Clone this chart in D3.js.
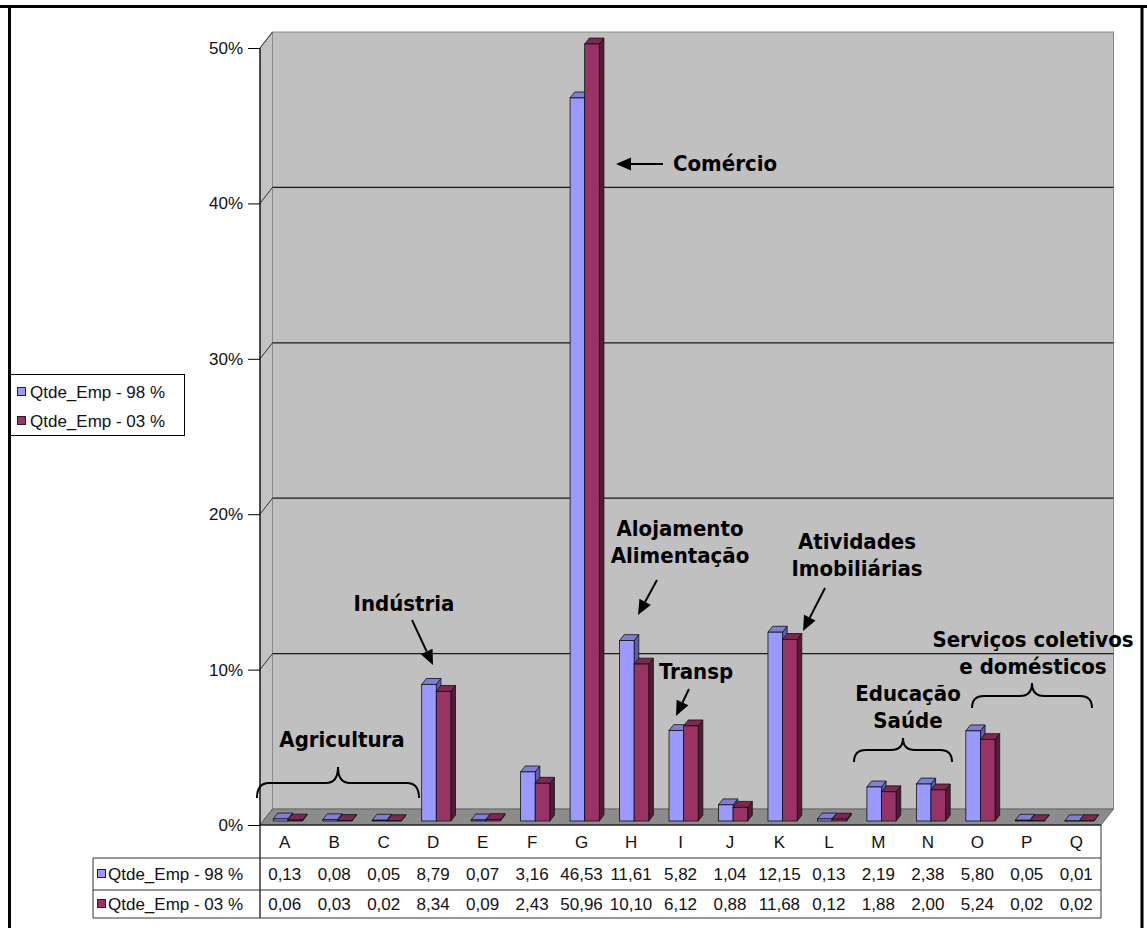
<!DOCTYPE html>
<html>
<head>
<meta charset="utf-8">
<script src="https://cdn.jsdelivr.net/npm/d3@7"></script>
<style>
  html, body { margin: 0; padding: 0; background: #fff; }
  svg { display: block; }
  .small { font-family: "Liberation Sans", Arial, sans-serif; font-size: 17px; fill: #111; }
  .note { font-family: "DejaVu Sans Condensed", "DejaVu Sans", sans-serif; font-stretch: condensed; font-weight: bold; font-size: 22px; fill: #000; }
</style>
</head>
<body>
<svg id="chart" width="1147" height="928"></svg>
<script>
// Share of companies by economic activity section (CNAE), 1998 vs 2003
const categories = ["A","B","C","D","E","F","G","H","I","J","K","L","M","N","O","P","Q"];
const seriesNames = ["Qtde_Emp - 98 %", "Qtde_Emp - 03 %"];
const values98 = [0.13, 0.08, 0.05, 8.79, 0.07, 3.16, 46.53, 11.61, 5.82, 1.04, 12.15, 0.13, 2.19, 2.38, 5.80, 0.05, 0.01];
const values03 = [0.06, 0.03, 0.02, 8.34, 0.09, 2.43, 50.96, 10.10, 6.12, 0.88, 11.68, 0.12, 1.88, 2.00, 5.24, 0.02, 0.02];
const yTicks = [0, 10, 20, 30, 40, 50];

const seriesValues = [values98, values03];
const fmt = v => v.toFixed(2).replace(".", ",");

const svg = d3.select("#chart");

// 3D frame geometry
const xLeft = 260, xRight = 1101, yBase = 825, yTop = 48;
const DX = 12.5, DY = -16;          // offset from front edge to back wall
const t0 = 0.25, t1 = 0.62;         // depth slice occupied by the columns

const x = d3.scaleBand().domain(categories).range([xLeft, xRight]).padding(0);
const y = d3.scaleLinear().domain([0, 50]).range([yBase, yTop]).clamp(true);

// side wall
svg.append("polygon")
  .attr("points", [[xLeft, y(50)], [xLeft + DX, y(50) + DY], [xLeft + DX, yBase + DY], [xLeft, yBase]].join(" "))
  .attr("fill", "#c3c3c3").attr("stroke", "#808080").attr("stroke-width", 1);
// back wall
svg.append("rect")
  .attr("x", xLeft + DX).attr("y", y(50) + DY)
  .attr("width", xRight - xLeft).attr("height", yBase - y(50))
  .attr("fill", "#c0c0c0").attr("stroke", "#8a8a8a").attr("stroke-width", 1);

// gridlines: diagonal across the side wall, horizontal across the back wall
yTicks.filter(v => v > 0 && v < 50).forEach(v => {
  svg.append("line")
    .attr("x1", xLeft + DX).attr("x2", xRight + DX)
    .attr("y1", y(v) + DY).attr("y2", y(v) + DY)
    .attr("stroke", "#1a1a1a").attr("stroke-width", 1.2);
});
yTicks.forEach(v => {
  svg.append("line")
    .attr("x1", xLeft).attr("y1", y(v))
    .attr("x2", xLeft + DX).attr("y2", y(v) + DY)
    .attr("stroke", v === 0 ? "#555" : "#333").attr("stroke-width", 1);
});

// floor
svg.append("polygon")
  .attr("points", [[xLeft, yBase], [xRight, yBase], [xRight + DX, yBase + DY], [xLeft + DX, yBase + DY]].join(" "))
  .attr("fill", "#8c8c8c").attr("stroke", "#666").attr("stroke-width", 1);

// columns
const barW = 14.6;
const ox0 = DX * t0, oy0 = DY * t0;
const ddx = DX * (t1 - t0), ddy = DY * (t1 - t0);
const palette = [
  { front: "#9999ff", top: "#7f7fd6", side: "#5f5fa8" },
  { front: "#993366", top: "#7a2952", side: "#521b37" }
];

categories.forEach((c, i) => {
  seriesValues.forEach((vals, s) => {
    const g = svg.append("g");
    const x0 = x(c) + (x.bandwidth() - 2 * barW) / 2 + s * barW + ox0;
    const yb = y(0) + oy0;
    const yt = y(vals[i]) + oy0;
    const col = palette[s];
    g.append("polygon")
      .attr("points", [[x0 + barW, yt], [x0 + barW + ddx, yt + ddy], [x0 + barW + ddx, yb + ddy], [x0 + barW, yb]].join(" "))
      .attr("fill", col.side).attr("stroke", "#111").attr("stroke-width", 0.8).attr("stroke-linejoin", "round");
    g.append("polygon")
      .attr("points", [[x0, yt], [x0 + barW, yt], [x0 + barW + ddx, yt + ddy], [x0 + ddx, yt + ddy]].join(" "))
      .attr("fill", col.top).attr("stroke", "#111").attr("stroke-width", 0.8).attr("stroke-linejoin", "round");
    g.append("rect")
      .attr("x", x0).attr("y", yt).attr("width", barW).attr("height", Math.max(0, yb - yt))
      .attr("fill", col.front).attr("stroke", "#111").attr("stroke-width", 0.8);
  });
});

// value axis
const yAxis = d3.axisLeft(y).tickValues(yTicks).tickSize(12).tickPadding(5).tickFormat(d => d + "%");
const ax = svg.append("g").attr("transform", `translate(${xLeft},0)`).call(yAxis);
ax.select(".domain").remove();
ax.selectAll(".tick line").attr("stroke", "#000");
ax.selectAll(".tick text").attr("class", "small").attr("fill", "#111");
svg.append("line").attr("x1", xLeft).attr("x2", xLeft).attr("y1", y(50)).attr("y2", 918)
  .attr("stroke", "#000").attr("stroke-width", 1.2);
svg.append("line").attr("x1", xLeft).attr("x2", xRight).attr("y1", yBase).attr("y2", yBase)
  .attr("stroke", "#000").attr("stroke-width", 1.2);

// data table under the category axis
const rowLines = [858, 890, 918];
rowLines.forEach(ly => {
  svg.append("line").attr("x1", 93).attr("x2", xRight).attr("y1", ly).attr("y2", ly)
    .attr("stroke", "#333").attr("stroke-width", 1);
});
svg.append("line").attr("x1", 93).attr("x2", 93).attr("y1", 858).attr("y2", 918).attr("stroke", "#333");
svg.append("line").attr("x1", xRight).attr("x2", xRight).attr("y1", yBase).attr("y2", 918).attr("stroke", "#333");

svg.append("g").selectAll("text").data(categories).join("text")
  .attr("class", "small")
  .attr("x", d => x(d) + x.bandwidth() / 2).attr("y", 842)
  .attr("text-anchor", "middle").attr("dominant-baseline", "central")
  .text(d => d);

const rowY = [874, 904];
seriesValues.forEach((vals, s) => {
  svg.append("g").selectAll("text").data(vals).join("text")
    .attr("class", "small")
    .attr("x", (d, i) => x(categories[i]) + x.bandwidth() / 2).attr("y", rowY[s])
    .attr("text-anchor", "middle").attr("dominant-baseline", "central")
    .text(d => fmt(d));
  svg.append("rect").attr("x", 97.5).attr("y", rowY[s] - 4.5).attr("width", 8).attr("height", 8)
    .attr("fill", palette[s].front).attr("stroke", "#222").attr("stroke-width", 1);
  svg.append("text").attr("class", "small").attr("x", 108).attr("y", rowY[s])
    .attr("dominant-baseline", "central").text(seriesNames[s]);
});

// legend
svg.append("rect").attr("x", 10.5).attr("y", 374.5).attr("width", 174).attr("height", 61)
  .attr("fill", "#fff").attr("stroke", "#000").attr("stroke-width", 1);
const legY = [392, 421];
seriesNames.forEach((n, s) => {
  svg.append("rect").attr("x", 17.5).attr("y", legY[s] - 4.5).attr("width", 8).attr("height", 8)
    .attr("fill", palette[s].front).attr("stroke", "#222").attr("stroke-width", 1);
  svg.append("text").attr("class", "small").attr("x", 30).attr("y", legY[s])
    .attr("dominant-baseline", "central").text(n);
});

// annotations
const notes = [
  { lines: ["Comércio"], x: 725, y: 163 },
  { lines: ["Indústria"], x: 404, y: 603 },
  { lines: ["Alojamento", "Alimentação"], x: 680, y: 528 },
  { lines: ["Transp"], x: 696, y: 671 },
  { lines: ["Atividades", "Imobiliárias"], x: 857, y: 541 },
  { lines: ["Educação", "Saúde"], x: 908, y: 693 },
  { lines: ["Serviços coletivos", "e domésticos"], x: 1033, y: 639 },
  { lines: ["Agricultura"], x: 342, y: 739 }
];
notes.forEach(n => {
  n.lines.forEach((t, k) => {
    svg.append("text").attr("class", "note")
      .attr("x", n.x).attr("y", n.y + k * 27)
      .attr("text-anchor", "middle").attr("dominant-baseline", "central")
      .text(t);
  });
});

const arrows = [
  { from: [663, 164], to: [616, 164] },
  { from: [412, 620], to: [433, 665] },
  { from: [657, 580], to: [638, 615] },
  { from: [689, 689], to: [676, 716] },
  { from: [825, 588], to: [803, 631] }
];
arrows.forEach(a => {
  const [x1, y1] = a.from, [x2, y2] = a.to;
  const ang = Math.atan2(y2 - y1, x2 - x1);
  const L = 15, W = 6.5;
  const bx = x2 - L * Math.cos(ang), by = y2 - L * Math.sin(ang);
  svg.append("line").attr("x1", x1).attr("y1", y1).attr("x2", bx).attr("y2", by)
    .attr("stroke", "#000").attr("stroke-width", 2);
  svg.append("polygon")
    .attr("points", [[x2, y2],
      [bx + W * Math.sin(ang), by - W * Math.cos(ang)],
      [bx - W * Math.sin(ang), by + W * Math.cos(ang)]].join(" "))
    .attr("fill", "#000");
});

// curly braces grouping sections
const braces = [
  { x0: 257, x1: 419, xm: 338, yEnd: 798, yMid: 783, yPeak: 767 },
  { x0: 854, x1: 952, xm: 903, yEnd: 762, yMid: 750, yPeak: 738 },
  { x0: 972, x1: 1092, xm: 1032, yEnd: 708, yMid: 696, yPeak: 683 }
];
braces.forEach(b => {
  const r = 12;
  const p = d3.path();
  p.moveTo(b.x0, b.yEnd);
  p.quadraticCurveTo(b.x0, b.yMid, b.x0 + r, b.yMid);
  p.lineTo(b.xm - r, b.yMid);
  p.quadraticCurveTo(b.xm, b.yMid, b.xm, b.yPeak);
  p.quadraticCurveTo(b.xm, b.yMid, b.xm + r, b.yMid);
  p.lineTo(b.x1 - r, b.yMid);
  p.quadraticCurveTo(b.x1, b.yMid, b.x1, b.yEnd);
  svg.append("path").attr("d", p.toString()).attr("fill", "none")
    .attr("stroke", "#000").attr("stroke-width", 2);
});

// outer frame
svg.append("line").attr("x1", 0).attr("x2", 1147).attr("y1", 6.5).attr("y2", 6.5).attr("stroke", "#000").attr("stroke-width", 3);
svg.append("line").attr("x1", 9.5).attr("x2", 9.5).attr("y1", 5).attr("y2", 928).attr("stroke", "#000").attr("stroke-width", 3);
svg.append("line").attr("x1", 1142).attr("x2", 1142).attr("y1", 5).attr("y2", 928).attr("stroke", "#000").attr("stroke-width", 3);
</script>
</body>
</html>
